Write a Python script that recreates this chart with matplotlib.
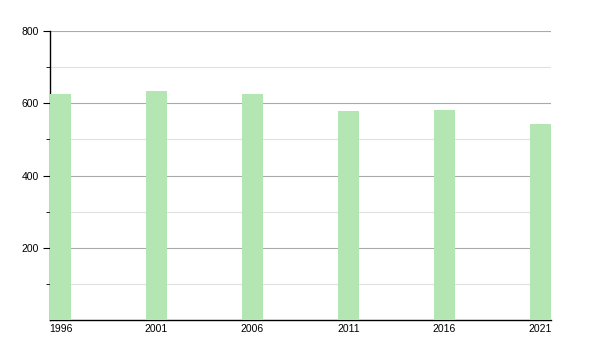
import matplotlib
matplotlib.use("Agg")
import matplotlib.pyplot as plt
from matplotlib.ticker import MultipleLocator, FixedLocator

years = [1996, 2001, 2006, 2011, 2016, 2021]
values = [626, 634, 626, 579, 581, 543]
ytick_labels = ["200", "400", "600", "800"]

plt.rcParams['font.family'] = ['Liberation Sans', 'DejaVu Sans']
fig = plt.figure(figsize=(6, 3.5), dpi=100)
ax = fig.add_axes([50/600, 1-320/350, 501/600, 289/350])

bw = 1.09
ax.bar(years, values, width=bw, color='#b3e6b3', zorder=3)
ax.set_xlim(years[0] - bw/2, years[-1] + bw/2)
ax.set_ylim(0, 800)
ax.set_xticks(years)
ax.set_xticklabels([str(y) for y in years])
ax.yaxis.set_major_locator(FixedLocator([200, 400, 600, 800]))
ax.set_yticklabels(ytick_labels)
ax.yaxis.set_minor_locator(FixedLocator([100, 300, 500, 700]))
ax.grid(axis='y', which='major', color='#aaaaaa', linewidth=0.8, zorder=1)
ax.grid(axis='y', which='minor', color='#e0e0e0', linewidth=0.8, zorder=1)
for s in ['top', 'right']:
    ax.spines[s].set_visible(False)
ax.spines['left'].set_linewidth(1.0)
ax.spines['bottom'].set_linewidth(1.0)
ax.tick_params(axis='x', length=0, labelsize=7.5, pad=3)
ax.tick_params(axis='y', which='major', length=5, labelsize=7.5, pad=3)
ax.tick_params(axis='y', which='minor', length=3)
fig.savefig("out.png", dpi=100)
